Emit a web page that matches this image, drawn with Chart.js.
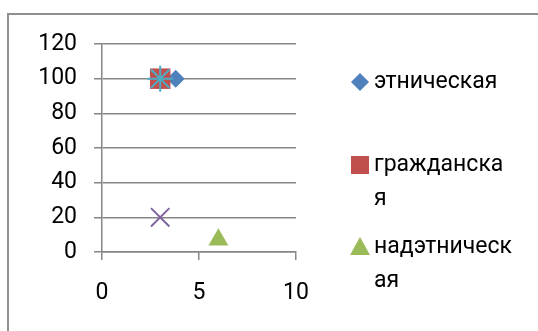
<!DOCTYPE html>
<html>
<head>
<meta charset="utf-8">
<script src="https://cdn.jsdelivr.net/npm/chart.js@4/dist/chart.umd.min.js"></script>
<style>
  body { margin: 0; background: #fff; overflow: hidden; }
  #wrap { position: relative; width: 538px; height: 331px; }
  #frame { position: absolute; left: 7px; top: 13px; width: 620px; height: 400px; border: 2px solid #8f8f8f; }
  canvas { position: absolute; left: 0; top: 0; }
</style>
</head>
<body>
<div id="wrap">
  <div id="frame"></div>
  <canvas id="chart" width="538" height="331"></canvas>
</div>
<script>
    // Series names (only the first three fit into the legend)
    const seriesNames = ['этническая', 'гражданская', 'надэтническая', 'Ряд4', 'Ряд5'];
    const seriesX = [3.8, 3, 6, 3, 3];
    const seriesY = [100, 100, 7, 20, 100];
    const seriesColors = ['#4F81BD', '#C0504D', '#9BBB59', '#8064A2', '#4BACC6'];
    const seriesShapes = ['rectRot', 'rect', 'triangle', 'crossRot', 'star'];
    const seriesSizes = [9, 14.5, 11.5, 13, 13];
    const legendCount = 3;

    const xTicks = [0, 5, 10];
    const yTicks = [0, 20, 40, 60, 80, 100, 120];

    const fontFamily = 'Roboto, "Open Sans", sans-serif';
    const gridColor = '#868686';

    // Function to draw one legend marker
    function drawMarker(ctx, shape, color, x, y) {
        ctx.save();
        ctx.fillStyle = color;
        ctx.beginPath();
        if (shape === 'rectRot') {
            ctx.moveTo(x, y - 9);
            ctx.lineTo(x + 9, y);
            ctx.lineTo(x, y + 9);
            ctx.lineTo(x - 9, y);
        } else if (shape === 'rect') {
            ctx.rect(x - 9, y - 9, 18, 18);
        } else {
            ctx.moveTo(x, y - 10);
            ctx.lineTo(x + 10, y + 8);
            ctx.lineTo(x - 10, y + 8);
        }
        ctx.closePath();
        ctx.fill();
        ctx.restore();
    }

    // Function to split a label into lines that fit the legend width
    function wrapText(ctx, text, maxWidth) {
        const lines = [];
        let line = '';
        for (const ch of text) {
            if (line && ctx.measureText(line + ch).width > maxWidth) {
                lines.push(line);
                line = ch;
            } else {
                line += ch;
            }
        }
        lines.push(line);
        return lines;
    }

    // Legend drawn by hand so that long names wrap like in the original
    const wrapLegend = {
        id: 'wrapLegend',
        afterDraw(chart) {
            const ctx = chart.ctx;
            const rowTops = [82, 165, 247];
            ctx.save();
            ctx.font = '23px ' + fontFamily;
            ctx.fillStyle = '#000';
            ctx.textBaseline = 'middle';
            for (let i = 0; i < legendCount; i++) {
                const y = rowTops[i];
                drawMarker(ctx, seriesShapes[i], seriesColors[i], 360, y);
                const lines = wrapText(ctx, chart.data.datasets[i].label, 140);
                lines.forEach((ln, k) => ctx.fillText(ln, 374, y + k * 34));
            }
            ctx.restore();
        }
    };

    const datasets = seriesNames.map((name, i) => ({
        label: name,
        data: [{ x: seriesX[i], y: seriesY[i] }],
        pointStyle: seriesShapes[i],
        pointRadius: seriesSizes[i],
        pointHoverRadius: seriesSizes[i],
        backgroundColor: seriesColors[i],
        borderColor: seriesColors[i],
        pointBorderWidth: (seriesShapes[i] === 'crossRot' || seriesShapes[i] === 'star') ? 2 : 0,
        order: seriesNames.length - i,
    }));

    const ctx = document.getElementById('chart').getContext('2d');
    new Chart(ctx, {
        type: 'scatter',
        data: { datasets: datasets },
        options: {
            responsive: false,
            animation: false,
            layout: { padding: { top: 44, right: 242, left: 0, bottom: 0 } },
            plugins: {
                legend: { display: false },
                tooltip: { enabled: false },
            },
            scales: {
                x: {
                    type: 'linear',
                    min: 0,
                    max: 10,
                    afterBuildTicks: scale => { scale.ticks = xTicks.map(v => ({ value: v })); },
                    afterFit: scale => { scale.height = 79; },
                    ticks: { color: '#000', padding: 19, font: { family: fontFamily, size: 23 } },
                    grid: { drawOnChartArea: false, drawTicks: true, tickLength: 8, color: gridColor, lineWidth: 1.5 },
                    border: { display: true, color: gridColor, width: 1.5 },
                },
                y: {
                    min: 0,
                    max: 120,
                    afterBuildTicks: scale => { scale.ticks = yTicks.map(v => ({ value: v })); },
                    afterFit: scale => { scale.width = 102; },
                    ticks: { color: '#000', padding: 17, font: { family: fontFamily, size: 23 } },
                    grid: { drawOnChartArea: true, drawTicks: true, tickLength: 8, color: gridColor, lineWidth: 1.5 },
                    border: { display: true, color: gridColor, width: 1.5 },
                },
            },
        },
        plugins: [wrapLegend],
    });
</script>
</body>
</html>
